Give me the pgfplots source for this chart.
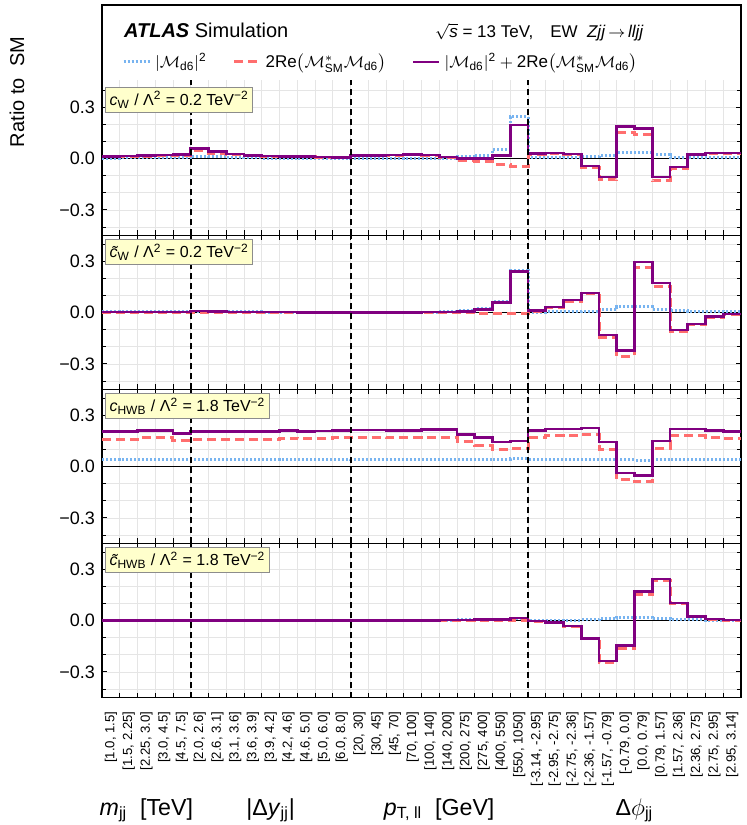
\documentclass[border=0pt]{standalone}
\usepackage{fontspec}
\setmainfont{Liberation Sans}
\usepackage{amsmath}
\usepackage{pgfplots}
\pgfplotsset{compat=1.18}
\usepackage{pgfplotstable}

\definecolor{cblue}{RGB}{120,180,240}
\definecolor{cred}{RGB}{255,110,110}
\definecolor{cpurp}{RGB}{128,0,128}
\definecolor{boxfill}{RGB}{255,255,204}

% c_W
\pgfplotstableread{
x B R P
0 0.002 0.010 0.012
1 0.003 0.012 0.015
2 0.003 0.014 0.017
3 0.003 0.017 0.020
4 0.003 0.019 0.022
5 0.012 0.045 0.057
6 0.009 0.031 0.040
7 0.006 0.021 0.027
8 0.003 0.015 0.018
9 0.002 0.012 0.014
10 0.002 0.010 0.012
11 0.001 0.009 0.010
12 0.001 0.007 0.008
13 0.001 0.005 0.006
14 0.000 0.016 0.016
15 0.000 0.018 0.018
16 0.000 0.020 0.020
17 0.001 0.023 0.024
18 0.001 0.019 0.020
19 0.002 0.006 0.008
20 0.010 -0.010 0.000
21 0.020 -0.020 0.000
22 0.053 -0.035 0.018
23 0.245 -0.049 0.196
24 0.004 0.026 0.030
25 0.004 0.029 0.033
26 0.005 0.022 0.027
27 0.010 -0.055 -0.045
28 0.017 -0.125 -0.108
29 0.033 0.153 0.186
30 0.033 0.143 0.176
31 0.022 -0.130 -0.108
32 0.008 -0.057 -0.049
33 0.004 0.021 0.025
34 0.004 0.027 0.031
35 0.004 0.027 0.031
36 0.004 0.027 0.031
}\tabA

% tilde c_W
\pgfplotstableread{
x B R P
0 0.003 0.000 0.003
1 0.003 0.000 0.003
2 0.003 0.000 0.003
3 0.003 0.000 0.003
4 0.003 0.000 0.003
5 0.008 0.000 0.008
6 0.006 0.000 0.006
7 0.004 0.000 0.004
8 0.003 0.000 0.003
9 0.002 0.000 0.002
10 0.002 0.000 0.002
11 0.001 0.000 0.001
12 0.001 0.000 0.001
13 0.001 0.000 0.001
14 0.001 0.000 0.001
15 0.001 0.000 0.001
16 0.001 0.000 0.001
17 0.001 0.000 0.001
18 0.002 0.000 0.002
19 0.004 -0.001 0.003
20 0.009 -0.002 0.007
21 0.021 -0.003 0.018
22 0.062 -0.004 0.058
23 0.246 -0.005 0.241
24 0.002 0.008 0.010
25 0.004 0.027 0.031
26 0.005 0.067 0.072
27 0.006 0.109 0.115
28 0.015 -0.147 -0.132
29 0.033 -0.255 -0.222
30 0.033 0.263 0.296
31 0.020 0.152 0.172
32 0.009 -0.112 -0.103
33 0.005 -0.073 -0.068
34 0.004 -0.028 -0.024
35 0.003 -0.011 -0.008
36 0.003 -0.011 -0.008
}\tabB

% c_HWB
\pgfplotstableread{
x B R P
0 0.042 0.158 0.203
1 0.042 0.158 0.203
2 0.042 0.170 0.212
3 0.042 0.170 0.212
4 0.042 0.150 0.193
5 0.042 0.160 0.203
6 0.042 0.160 0.203
7 0.042 0.160 0.203
8 0.042 0.160 0.203
9 0.042 0.160 0.203
10 0.042 0.166 0.210
11 0.042 0.162 0.205
12 0.042 0.165 0.208
13 0.043 0.168 0.212
14 0.042 0.170 0.214
15 0.042 0.170 0.214
16 0.042 0.168 0.210
17 0.042 0.170 0.212
18 0.042 0.172 0.216
19 0.042 0.172 0.216
20 0.042 0.144 0.187
21 0.042 0.125 0.168
22 0.043 0.101 0.144
23 0.044 0.105 0.150
24 0.041 0.170 0.212
25 0.041 0.179 0.220
26 0.041 0.179 0.220
27 0.041 0.187 0.226
28 0.040 0.101 0.144
29 0.038 -0.076 -0.037
30 0.037 -0.090 -0.053
31 0.040 0.105 0.150
32 0.041 0.179 0.220
33 0.041 0.179 0.218
34 0.041 0.170 0.209
35 0.041 0.166 0.205
36 0.041 0.166 0.205
}\tabC

% tilde c_HWB
\pgfplotstableread{
x B R P
0 0.001 0.000 0.001
1 0.001 0.000 0.001
2 0.001 0.000 0.001
3 0.001 0.000 0.001
4 0.001 0.000 0.001
5 0.001 0.000 0.001
6 0.001 0.000 0.001
7 0.001 0.000 0.001
8 0.001 0.000 0.001
9 0.001 0.000 0.001
10 0.001 0.000 0.001
11 0.001 0.000 0.001
12 0.001 0.000 0.001
13 0.001 0.000 0.001
14 0.001 0.000 0.001
15 0.001 0.000 0.001
16 0.001 0.000 0.001
17 0.002 -0.001 0.001
18 0.002 -0.001 0.001
19 0.002 -0.001 0.002
20 0.005 -0.001 0.004
21 0.006 -0.001 0.005
22 0.008 -0.002 0.006
23 0.012 0.002 0.014
24 0.001 -0.005 -0.004
25 0.001 -0.013 -0.012
26 0.002 -0.033 -0.031
27 0.003 -0.108 -0.105
28 0.010 -0.246 -0.236
29 0.020 -0.162 -0.146
30 0.018 0.152 0.168
31 0.010 0.233 0.242
32 0.005 0.098 0.103
33 0.003 0.022 0.025
34 0.001 0.007 0.008
35 0.000 0.002 0.002
36 0.000 0.002 0.002
}\tabD

\pgfplotsset{
  panel/.style={
    scale only axis, width=319.5pt, height=77pt,
    xmin=0, xmax=36, ymin=-0.45, ymax=0.45,
    xtick={0,...,36}, xticklabels={},
    ytick={-0.3,0,0.3}, yticklabels={−0.3,0.0,0.3},
    minor ytick={-0.4,-0.2,-0.1,0.1,0.2,0.4},
    grid=both,
    major grid style={draw=black!10, line width=0.3pt},
    minor grid style={draw=black!10, line width=0.3pt},
    tick align=inside,
    major tick length=2.5pt, minor tick length=1.8pt,
    every tick/.style={black, line width=0.4pt},
    axis line style={black, line width=0.9pt},
    yticklabel style={font=\fontsize{9}{10}\selectfont},
    anchor=south west,
  },
  bstyle/.style={cblue, line width=1.5pt, dash pattern=on 1pt off 1pt, const plot},
  rstyle/.style={cred, line width=1.5pt, dash pattern=on 4.5pt off 2.5pt, const plot},
  pstyle/.style={cpurp, line width=1.3pt, const plot},
  sep/.style={black, line width=1pt, dash pattern=on 3pt off 2pt, forget plot},
  zline/.style={black, line width=0.5pt, forget plot},
}
\tikzset{
  lbox/.style={anchor=north west, fill=boxfill, draw=black!45, line width=0.5pt, inner sep=2pt, font=\fontsize{8}{9}\selectfont},
}

\begin{document}
\begin{tikzpicture}
\useasboundingbox (-51pt,-63.75pt) rectangle (322.5pt,348.75pt);

% ---------- panel A ----------
\begin{axis}[panel, at={(0,231pt)}, height=115.25pt, ymax=0.897,
  legend style={at={(0.031,0.753)}, anchor=west, draw=none, fill=none, inner sep=0pt,
    font=\fontsize{8.5}{10}\selectfont, /tikz/every even column/.append style={column sep=11pt}},
  legend columns=3, legend cell align=left,
  legend image code/.code={\draw[#1, sharp plot] (0pt,0pt) -- (13pt,0pt);},
]
\fill[white] (axis cs:0.07,0.456) rectangle (axis cs:35.93,0.89);
\addplot[zline] coordinates {(0,0) (36,0)};
\addplot[bstyle] table[x=x,y=B]{\tabA};
\addlegendentry{$|\mathcal{M}_{\text{d6}}|^{\text{2}}$}
\addplot[rstyle] table[x=x,y=R]{\tabA};
\addlegendentry{$\text{2Re}\big(\mathcal{M}^{*}_{\text{SM}}\mathcal{M}_{\text{d6}}\big)$}
\addplot[pstyle] table[x=x,y=P]{\tabA};
\addlegendentry{$|\mathcal{M}_{\text{d6}}|^{\text{2}}+\text{2Re}\big(\mathcal{M}^{*}_{\text{SM}}\mathcal{M}_{\text{d6}}\big)$}
\addplot[sep] coordinates {(5,-0.45) (5,0.456)};
\addplot[sep] coordinates {(14,-0.45) (14,0.456)};
\addplot[sep] coordinates {(24,-0.45) (24,0.456)};
\node[lbox] at (axis cs:0.17,0.418) {\textit{c}\textsubscript{W} / Λ\textsuperscript{2} = 0.2 TeV\textsuperscript{−2}};
\node[anchor=base west, font=\fontsize{10}{12}\selectfont] at (axis cs:0.85,0.71) {\textbf{\textit{ATLAS}} Simulation};
\node[anchor=base west, font=\fontsize{8.5}{10}\selectfont] at (axis cs:18.37,0.71) {$\sqrt{\text{\textit{s}}}$ = 13 TeV,\quad EW\ \ \textit{Zjj}\,$\to$\,\textit{lljj}};
\end{axis}

% ---------- panel B ----------
\begin{axis}[panel, at={(0,154pt)}]
\addplot[zline] coordinates {(0,0) (36,0)};
\addplot[bstyle] table[x=x,y=B]{\tabB};
\addplot[rstyle] table[x=x,y=R]{\tabB};
\addplot[pstyle] table[x=x,y=P]{\tabB};
\addplot[sep] coordinates {(5,-0.45) (5,0.45)};
\addplot[sep] coordinates {(14,-0.45) (14,0.45)};
\addplot[sep] coordinates {(24,-0.45) (24,0.45)};
\node[lbox] at (axis cs:0.17,0.428) {\textit{\~{c}}\textsubscript{W} / Λ\textsuperscript{2} = 0.2 TeV\textsuperscript{−2}};
\end{axis}

% ---------- panel C ----------
\begin{axis}[panel, at={(0,77pt)}]
\addplot[zline] coordinates {(0,0) (36,0)};
\addplot[bstyle] table[x=x,y=B]{\tabC};
\addplot[rstyle] table[x=x,y=R]{\tabC};
\addplot[pstyle] table[x=x,y=P]{\tabC};
\addplot[sep] coordinates {(5,-0.45) (5,0.45)};
\addplot[sep] coordinates {(14,-0.45) (14,0.45)};
\addplot[sep] coordinates {(24,-0.45) (24,0.45)};
\node[lbox] at (axis cs:0.17,0.428) {\textit{c}\textsubscript{HWB} / Λ\textsuperscript{2} = 1.8 TeV\textsuperscript{−2}};
\end{axis}

% ---------- panel D ----------
\begin{axis}[panel, at={(0,0pt)},
  extra x ticks={0.5,1.5,...,35.5},
  extra x tick labels={{{}[1.0, 1.5]},{{}[1.5, 2.25]},{{}[2.25, 3.0]},{{}[3.0, 4.5]},{{}[4.5, 7.5]},
    {{}[2.0, 2.6]},{{}[2.6, 3.1]},{{}[3.1, 3.6]},{{}[3.6, 3.9]},{{}[3.9, 4.2]},{{}[4.2, 4.6]},{{}[4.6, 5.0]},{{}[5.0, 6.0]},{{}[6.0, 8.0]},
    {{}[20, 30]},{{}[30, 45]},{{}[45, 70]},{{}[70, 100]},{{}[100, 140]},{{}[140, 200]},{{}[200, 275]},{{}[275, 400]},{{}[400, 550]},{{}[550, 1050]},
    {{}[-3.14, -2.95]},{{}[-2.95, -2.75]},{{}[-2.75, -2.36]},{{}[-2.36, -1.57]},{{}[-1.57, -0.79]},{{}[-0.79, 0.0]},{{}[0.0, 0.79]},{{}[0.79, 1.57]},{{}[1.57, 2.36]},{{}[2.36, 2.75]},{{}[2.75, 2.95]},{{}[2.95, 3.14]}},
  extra x tick style={grid=none, major tick length=0pt, tick style={draw=none},
    tick label style={rotate=90, anchor=east, font=\fontsize{6.6}{7}\selectfont}},
  xticklabel shift=3.5pt,
]
\addplot[zline] coordinates {(0,0) (36,0)};
\addplot[bstyle] table[x=x,y=B]{\tabD};
\addplot[rstyle] table[x=x,y=R]{\tabD};
\addplot[pstyle] table[x=x,y=P]{\tabD};
\addplot[sep] coordinates {(5,-0.45) (5,0.45)};
\addplot[sep] coordinates {(14,-0.45) (14,0.45)};
\addplot[sep] coordinates {(24,-0.45) (24,0.45)};
\node[lbox] at (axis cs:0.17,0.428) {\textit{\~{c}}\textsubscript{HWB} / Λ\textsuperscript{2} = 1.8 TeV\textsuperscript{−2}};
\end{axis}

\node[rotate=90, font=\fontsize{10}{12}\selectfont] at (-42.5pt,302.75pt) {Ratio to\ \ SM};
\begin{scope}[every node/.style={anchor=base, font=\fontsize{11.6}{13}\selectfont}]
\node at (22.19pt,-58.75pt) {\textit{m}\textsubscript{jj}\ \ [TeV]};
\node at (84.31pt,-58.75pt) {|Δ\textit{y}\textsubscript{jj}|};
\node at (168.6pt,-58.75pt) {\textit{p}\textsubscript{T, ll}\ \ [GeV]};
\node at (266.25pt,-58.75pt) {Δ$\phi$\textsubscript{jj}};
\end{scope}
\end{tikzpicture}
\end{document}
